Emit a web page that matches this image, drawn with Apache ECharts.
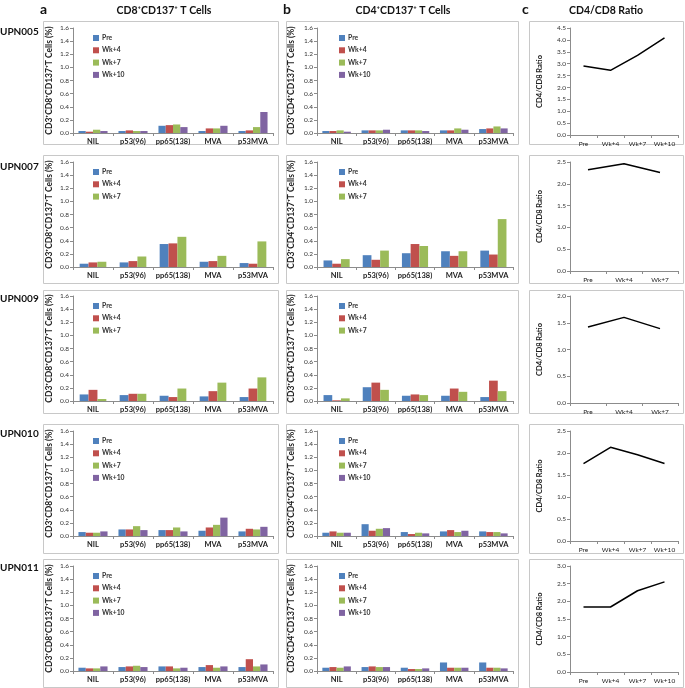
<!DOCTYPE html>
<html>
<head>
<meta charset="utf-8">
<script src="https://cdn.jsdelivr.net/npm/echarts@6/dist/echarts.min.js"></script>
<style>html,body{margin:0;padding:0;background:#fff}#chart{width:685px;height:688px}</style>
</head>
<body>
<div id="chart"></div>
<script>
// ---------- DATA ----------
const categories = ['NIL', 'p53(96)', 'pp65(138)', 'MVA', 'p53MVA'];
const timepoints = ['Pre', 'Wk+4', 'Wk+7', 'Wk+10'];
const patients = ['UPN005', 'UPN007', 'UPN009', 'UPN010', 'UPN011'];
const barTicks = [0, 0.2, 0.4, 0.6, 0.8, 1.0, 1.2, 1.4, 1.6];

// CD8+CD137+ (%) : one array per timepoint, values per category
const cd8_UPN005 = [[0.03, 0.03, 0.11, 0.03, 0.03], [0.02, 0.04, 0.12, 0.07, 0.04], [0.05, 0.03, 0.13, 0.07, 0.09], [0.03, 0.03, 0.09, 0.11, 0.32]];
const cd8_UPN007 = [[0.05, 0.07, 0.35, 0.08, 0.06], [0.07, 0.09, 0.36, 0.09, 0.05], [0.08, 0.16, 0.46, 0.17, 0.39]];
const cd8_UPN009 = [[0.10, 0.09, 0.08, 0.07, 0.06], [0.17, 0.11, 0.06, 0.15, 0.19], [0.03, 0.11, 0.19, 0.28, 0.36]];
const cd8_UPN010 = [[0.06, 0.10, 0.09, 0.08, 0.07], [0.05, 0.10, 0.09, 0.13, 0.11], [0.05, 0.15, 0.13, 0.17, 0.10], [0.07, 0.09, 0.07, 0.28, 0.14]];
const cd8_UPN011 = [[0.05, 0.06, 0.07, 0.06, 0.06], [0.04, 0.07, 0.07, 0.09, 0.18], [0.04, 0.08, 0.04, 0.05, 0.07], [0.07, 0.06, 0.05, 0.07, 0.10]];

// CD4+CD137+ (%)
const cd4_UPN005 = [[0.03, 0.04, 0.04, 0.04, 0.06], [0.03, 0.04, 0.04, 0.04, 0.07], [0.04, 0.04, 0.04, 0.07, 0.10], [0.02, 0.05, 0.03, 0.05, 0.07]];
const cd4_UPN007 = [[0.10, 0.18, 0.21, 0.24, 0.25], [0.05, 0.11, 0.35, 0.17, 0.19], [0.12, 0.25, 0.32, 0.24, 0.73]];
const cd4_UPN009 = [[0.09, 0.21, 0.08, 0.08, 0.06], [0.01, 0.28, 0.10, 0.19, 0.31], [0.04, 0.17, 0.09, 0.14, 0.15]];
const cd4_UPN010 = [[0.05, 0.18, 0.06, 0.07, 0.07], [0.07, 0.08, 0.03, 0.09, 0.06], [0.05, 0.11, 0.05, 0.06, 0.06], [0.05, 0.12, 0.04, 0.08, 0.04]];
const cd4_UPN011 = [[0.05, 0.06, 0.05, 0.13, 0.13], [0.06, 0.07, 0.03, 0.05, 0.05], [0.05, 0.06, 0.03, 0.05, 0.05], [0.07, 0.06, 0.04, 0.05, 0.04]];

// CD4/CD8 ratio
const ratio_UPN005 = [2.90, 2.72, 3.35, 4.08];
const ratio_UPN007 = [2.32, 2.46, 2.26];
const ratio_UPN009 = [1.42, 1.60, 1.39];
const ratio_UPN010 = [1.76, 2.13, 1.96, 1.76];
const ratio_UPN011 = [1.84, 1.84, 2.30, 2.55];
const ratioMax = [4.5, 2.5, 2.0, 2.5, 3.0];

const cd8Data = [cd8_UPN005, cd8_UPN007, cd8_UPN009, cd8_UPN010, cd8_UPN011];
const cd4Data = [cd4_UPN005, cd4_UPN007, cd4_UPN009, cd4_UPN010, cd4_UPN011];
const ratioData = [ratio_UPN005, ratio_UPN007, ratio_UPN009, ratio_UPN010, ratio_UPN011];

// ---------- STYLE / LAYOUT ----------
const FONT = 'Lato, "DejaVu Sans", sans-serif';
const colors = ['#4F81BD', '#C0504D', '#9BBB59', '#8064A2'];
const plotTop = [28, 162, 296, 431, 566];
const ratioH = [107, 109, 107, 110, 106];
const boxY = [[21, 144], [155, 283], [290, 413], [424, 553], [559, 687]];
const boxX = [[43, 278], [286, 518], [529, 683]];
const rowLabelY = [33, 168, 300, 435, 569];
const cols = [
  { left: 73, width: 200, yName: 'CD3\u207ACD8\u207ACD137\u207AT Cells (%)', nameGap: 19, nameSize: 8.5, legendLeft: 88 },
  { left: 317, width: 196, yName: 'CD3\u207ACD4\u207ACD137\u207AT Cells (%)', nameGap: 21, nameSize: 8.5, legendLeft: 334 },
  { left: 570, width: 108, yName: 'CD4/CD8 Ratio', nameGap: 26, nameSize: 7.5 }
];

const grids = [], xAxes = [], yAxes = [], series = [], legends = [], graphics = [];
const axisLineStyle = { color: '#8c8c8c', width: 1 };

for (let i = 0; i < patients.length; i++) {
  for (let c = 0; c < 3; c++) {
    const k = i * 3 + c;
    const isRatio = c === 2;
    const n = isRatio ? ratioData[i].length : cd8Data[i].length;
    grids.push({ left: cols[c].left, top: plotTop[i], width: cols[c].width, height: isRatio ? ratioH[i] : 105 });
    xAxes.push({
      type: 'category', gridIndex: k,
      data: isRatio ? timepoints.slice(0, n) : categories,
      axisLine: { lineStyle: axisLineStyle },
      axisTick: { show: true, length: 3, lineStyle: axisLineStyle },
      axisLabel: { fontFamily: FONT, fontSize: isRatio ? 6.5 : 7.5, fontWeight: isRatio ? 'normal' : 'bold', color: '#222', margin: 5, interval: 0 }
    });
    yAxes.push({
      type: 'value', gridIndex: k, min: 0,
      max: isRatio ? ratioMax[i] : barTicks[barTicks.length - 1],
      interval: isRatio ? 0.5 : 0.2,
      splitLine: { show: false },
      axisLine: { show: true, lineStyle: axisLineStyle },
      axisTick: { show: true, length: 3, lineStyle: axisLineStyle },
      axisLabel: { fontFamily: FONT, fontSize: 6.5, color: '#333', margin: 4, formatter: v => v.toFixed(1) },
      name: cols[c].yName, nameLocation: 'middle', nameGap: cols[c].nameGap, nameRotate: 90,
      nameTextStyle: { fontFamily: FONT, fontSize: cols[c].nameSize, fontWeight: 'bold', color: '#222' }
    });
    if (isRatio) {
      series.push({
        type: 'line', xAxisIndex: k, yAxisIndex: k, data: ratioData[i],
        symbol: 'none', lineStyle: { color: '#000', width: 1.5 }, itemStyle: { color: '#000' }, silent: true
      });
    } else {
      const dat = c === 0 ? cd8Data[i] : cd4Data[i];
      const names = timepoints.slice(0, dat.length);
      dat.forEach((vals, j) => {
        series.push({
          type: 'bar', name: names[j], xAxisIndex: k, yAxisIndex: k, data: vals,
          itemStyle: { color: colors[j] }, barGap: '0%',
          barCategoryGap: (1.5 / (dat.length + 1.5) * 100).toFixed(1) + '%'
        });
      });
      legends.push({
        data: names, orient: 'vertical', left: cols[c].legendLeft, top: plotTop[i] + 1,
        itemWidth: 6, itemHeight: 6, itemGap: 4.3, icon: 'rect', selectedMode: false,
        textStyle: { fontFamily: FONT, fontSize: 6.8, fontWeight: 'bold', color: '#333', lineHeight: 8, padding: [0, 0, 0, -2] }
      });
    }
    graphics.push({
      type: 'rect', silent: true, z: -1,
      shape: { x: boxX[c][0] + 0.5, y: boxY[i][0] + 0.5, width: boxX[c][1] - boxX[c][0], height: boxY[i][1] - boxY[i][0] },
      style: { fill: 'none', stroke: '#c8c8c8', lineWidth: 1 }
    });
  }
  graphics.push({
    type: 'text', left: 0, top: rowLabelY[i] - 6,
    style: { text: patients[i], font: 'bold 10px ' + FONT, fill: '#111' }
  });
}

// panel letters and column titles
const colTitles = [
  { letter: 'a', lx: 40, title: 'CD8\u207ACD137\u207A T Cells', cx: 164 },
  { letter: 'b', lx: 283, title: 'CD4\u207ACD137\u207A T Cells', cx: 403 },
  { letter: 'c', lx: 522, title: 'CD4/CD8 Ratio', cx: 606 }
];
colTitles.forEach(t => {
  graphics.push({ type: 'text', x: t.lx, y: 2, style: { text: t.letter, font: 'bold 14px ' + FONT, fill: '#111' } });
  graphics.push({ type: 'text', x: t.cx, y: 5, style: { text: t.title, font: 'bold 10.5px ' + FONT, fill: '#111', textAlign: 'center' } });
});

const chart = echarts.init(document.getElementById('chart'), null, { renderer: 'canvas' });
chart.setOption({
  animation: false,
  backgroundColor: '#fff',
  grid: grids, xAxis: xAxes, yAxis: yAxes, series: series, legend: legends, graphic: graphics
});
</script>
</body>
</html>
